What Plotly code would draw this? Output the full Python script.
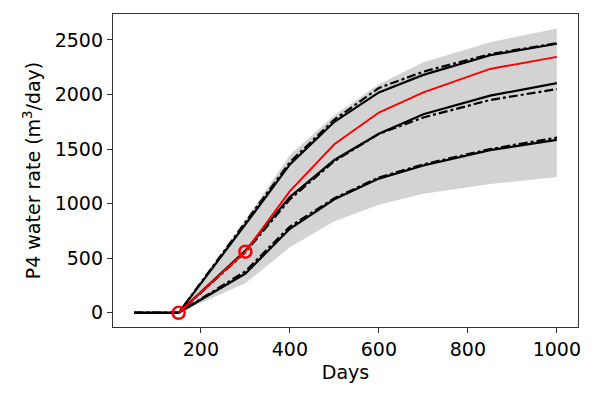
import plotly.graph_objects as go

days = [50, 150, 300, 400, 500, 600, 700, 850, 1000]
band_upper = [0, 0, 850, 1445, 1810, 2095, 2295, 2480, 2605]
band_lower = [0, 0, 270, 600, 840, 990, 1090, 1180, 1245]
top_solid = [0, 0, 810, 1360, 1750, 2020, 2180, 2360, 2465]
top_dashdot = [0, 0, 830, 1380, 1770, 2060, 2210, 2370, 2470]
mid_solid = [0, 0, 570, 1060, 1400, 1640, 1820, 1990, 2105]
mid_dashdot = [0, 0, 555, 1040, 1390, 1640, 1790, 1950, 2050]
bot_solid = [0, 0, 360, 770, 1040, 1230, 1350, 1490, 1585]
bot_dashdot = [0, 0, 380, 790, 1050, 1240, 1360, 1500, 1605]
red_days = [150, 300, 400, 500, 600, 700, 850, 1000]
red_line = [0, 560, 1115, 1545, 1835, 2020, 2235, 2345]
obs_days = [150, 300]
obs_vals = [0, 560]
xticks = [200, 400, 600, 800, 1000]
yticks = [0, 500, 1000, 1500, 2000, 2500]

fig = go.Figure()
fig.add_trace(go.Scatter(x=days, y=band_lower, mode="lines", line=dict(width=0),
                         showlegend=False, hoverinfo="skip"))
fig.add_trace(go.Scatter(x=days, y=band_upper, mode="lines", line=dict(width=0),
                         fill="tonexty", fillcolor="#d3d3d3", showlegend=False))

for vals, dash in [(top_solid, "solid"), (top_dashdot, "dashdot"),
                   (mid_solid, "solid"), (mid_dashdot, "dashdot"),
                   (bot_solid, "solid"), (bot_dashdot, "dashdot")]:
    fig.add_trace(go.Scatter(x=days, y=vals, mode="lines",
                             line=dict(color="black", width=2.2, dash=dash),
                             showlegend=False))

fig.add_trace(go.Scatter(x=red_days, y=red_line, mode="lines",
                         line=dict(color="red", width=2), showlegend=False))
fig.add_trace(go.Scatter(x=obs_days, y=obs_vals, mode="markers",
                         marker=dict(symbol="circle-open", size=12, color="red",
                                     line=dict(width=2.5, color="red")),
                         showlegend=False))

font = dict(family="DejaVu Sans", size=19, color="black")
fig.update_layout(
    width=590, height=391,
    margin=dict(l=105, r=20, t=6, b=72),
    paper_bgcolor="white", plot_bgcolor="white",
    font=font,
    showlegend=False,
)
fig.update_xaxes(range=[2.5, 1047.5], tickvals=xticks, ticks="outside", ticklen=5,
                 tickwidth=1.3, tickcolor="#333", showline=True, linecolor="#333",
                 linewidth=1.3, mirror=True, showgrid=False, zeroline=False,
                 automargin=False,
                 title=dict(text="Days", font=font, standoff=6))
fig.update_yaxes(range=[-130, 2738], tickvals=yticks, ticks="outside", ticklen=5,
                 tickwidth=1.3, tickcolor="#333", showline=True, linecolor="#333",
                 linewidth=1.3, mirror=True, showgrid=False, zeroline=False,
                 automargin=False,
                 title=dict(text="P4 water rate (m<sup>3</sup>/day)", font=font, standoff=9))

fig.write_html("out.html")
